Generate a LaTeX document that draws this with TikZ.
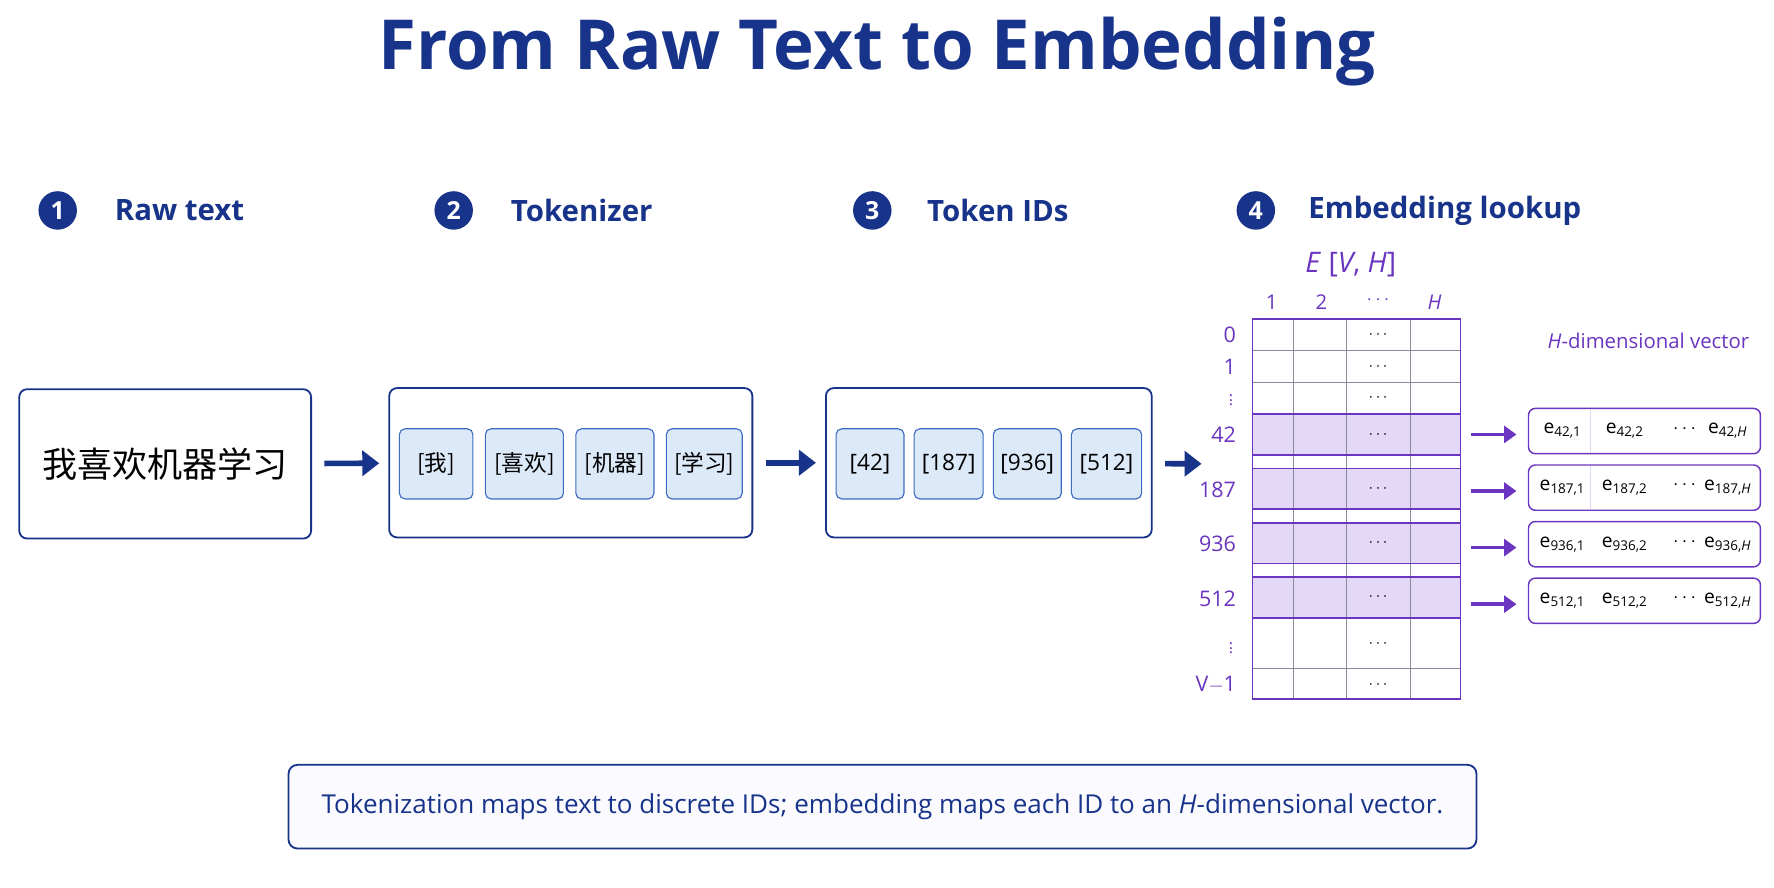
\documentclass[tikz,border=0pt]{standalone}
\usepackage{fontspec}
\setmainfont{Open Sans}
\newfontfamily\cjk{Noto Sans CJK SC}
\usetikzlibrary{arrows.meta}
\definecolor{navy}{HTML}{17338A}
\definecolor{purp}{HTML}{6A35C0}
\definecolor{hl}{HTML}{E4D8F8}
\definecolor{tokfill}{HTML}{DCE9F8}
\definecolor{tokline}{HTML}{3C6CC0}
\definecolor{grid}{HTML}{8A8A9A}
\newcommand{\fs}[1]{\fontsize{#1}{#1}\selectfont}
\newcommand{\sbs}[1]{\textsubscript{#1}}
\tikzset{
 stepnum/.style={circle,fill=navy,text=white,minimum size=34pt,inner sep=0pt,font=\fs{22}\bfseries},
 steplbl/.style={anchor=west,text=navy,font=\fs{26}\bfseries},
 bigbox/.style={draw=navy,line width=1.6pt,rounded corners=7pt,fill=white},
 tok/.style={draw=tokline,line width=1pt,fill=tokfill,rounded corners=5pt,minimum height=62pt,inner sep=0pt,text=black,font=\fs{20}},
 flow/.style={-{Triangle[length=15pt,width=22pt]},line width=5pt,draw=navy,shorten <=11pt,shorten >=8pt},
 parrow/.style={-{Triangle[length=11pt,width=15pt]},line width=3pt,draw=purp},
 rowlbl/.style={anchor=east,text=purp,font=\fs{19}},
 vec/.style={draw=purp,line width=1.3pt,rounded corners=6pt,fill=white,minimum width=205pt,minimum height=40pt,inner sep=0pt},
 ent/.style={font=\fs{17},text=black},
}
\begin{document}
\begin{tikzpicture}[x=1pt,y=-1pt]
\useasboundingbox (0,0) rectangle (1568,784);
\fill[white] (0,0) rectangle (1568,784);
\node[text=navy,font=\fs{61}\bfseries] (title) at (775,46) {From Raw Text to Embedding};
% steps
\node[stepnum] (n1) at (51,186) {1};
\node[steplbl] (l1) at (98,186) {Raw text};
\node[stepnum] (n2) at (401,186) {2};
\node[steplbl] (l2) at (448,186) {Tokenizer};
\node[stepnum] (n3) at (771,186) {3};
\node[steplbl] (l3) at (816,186) {Token IDs};
\node[stepnum] (n4) at (1110,186) {4};
\node[steplbl] (l4) at (1153,186) {Embedding lookup};
% box1
\node[bigbox,minimum width=258pt,minimum height=132pt,font=\cjk\fs{31}] (b1) at (146,410) {我喜欢机器学习};
% box2
\node[bigbox,minimum width=321pt,minimum height=132pt] (b2) at (504.5,409) {};
\node[tok,minimum width=65pt] (t1) at (385.5,410) {{\cjk[我]}};
\node[tok,minimum width=69pt] (t2) at (463.5,410) {{\cjk[喜欢]}};
\node[tok,minimum width=69pt] (t3) at (543.5,410) {{\cjk[机器]}};
\node[tok,minimum width=67pt] (t4) at (622.5,410) {{\cjk[学习]}};
% box3
\node[bigbox,minimum width=288pt,minimum height=132pt] (b3) at (874,409) {};
\node[tok,minimum width=60pt] (i1) at (769,410) {[42]};
\node[tok,minimum width=61pt] (i2) at (838.5,410) {[187]};
\node[tok,minimum width=60pt] (i3) at (908,410) {[936]};
\node[tok,minimum width=62pt] (i4) at (978,410) {[512]};
\coordinate (tab) at (1070,410);
\draw[flow] (b1) -- (b2);
\draw[flow] (b2) -- (b3);
\draw[flow] (b3) -- (tab);
% table
\node[text=purp,font=\fs{25}] (E) at (1194,234) {\textit{E} [\textit{V}, \textit{H}]};
\node[text=purp,font=\fs{18}] (c1) at (1124,267) {1};
\node[text=purp,font=\fs{18}] (c2) at (1168,267) {2};
\node[text=purp,font=\fs{18}] (c3) at (1218,265) {$\cdots$};
\node[text=purp,font=\fs{18}] (cH) at (1268,267) {\textit{H}};
\foreach \a/\b in {366/402,414/450,462/498,510/546}{
  \fill[hl] (1107,\a) rectangle (1291,\b);}
\foreach \y in {310,338,366,402,414,450,462,498,510,546,591}{
  \draw[grid,line width=0.7pt] (1107,\y) -- (1291,\y);}
\foreach \x in {1143,1190,1247}{
  \draw[grid,line width=0.7pt] (\x,282) -- (\x,618);}
\foreach \a/\b in {366/402,414/450,462/498,510/546}{
  \draw[purp,line width=1.5pt] (1107,\a) rectangle (1291,\b);}
\draw[purp,line width=1.5pt] (1107,282) rectangle (1291,618);
\foreach \y in {296,324,352,384,432,480,528,569,605}{
  \node[font=\fs{14},inner sep=0pt] at (1218,\y) {$\cdots$};}
\node[rowlbl] (r0) at (1096,296) {0};
\node[rowlbl] (r1) at (1096,324) {1};
\node[rowlbl,font=\fs{14},inner sep=0pt] (rd) at (1090,351) {$\vdots$};
\node[rowlbl] (r42) at (1096,384) {42};
\node[rowlbl] (r187) at (1096,433) {187};
\node[rowlbl] (r936) at (1096,481) {936};
\node[rowlbl] (r512) at (1096,529) {512};
\node[rowlbl,font=\fs{14},inner sep=0pt] (rd2) at (1090,570) {$\vdots$};
\node[rowlbl] (rV) at (1096,605) {V$-$1};
% vectors
\node[text=purp,font=\fs{18}] (hv) at (1457,301) {\textit{H}-dimensional vector};
\foreach \n/\y in {42/381,187/431,936/481,512/531}{
  \node[vec] (v\n) at (1453.5,\y) {};
  \coordinate (s\n) at (1300,\y+3);
  \draw[parrow] (s\n) -- ([xshift=-10pt]v\n.west |- s\n);
  \node[ent] at (1381,\y) {e\sbs{\n,1}};
  \node[ent] at (1436,\y) {e\sbs{\n,2}};
  \node[ent] at (1489,\y-2) {$\cdots$};
  \node[ent] at (1527,\y) {e\sbs{\n,\textit{H}}};
}
\draw[purp!20,line width=0.8pt] (1406,362) -- (1406,400);
\draw[purp!20,line width=0.8pt] (1406,412) -- (1406,450);
% bottom
\node[draw=navy,line width=1.6pt,rounded corners=8pt,fill=blue!2,minimum width=1050pt,minimum height=74pt,text=navy,font=\fs{23}] (note) at (780,713)
 {Tokenization maps text to discrete IDs; embedding maps each ID to an \textit{H}-dimensional vector.};
\end{tikzpicture}
\end{document}
